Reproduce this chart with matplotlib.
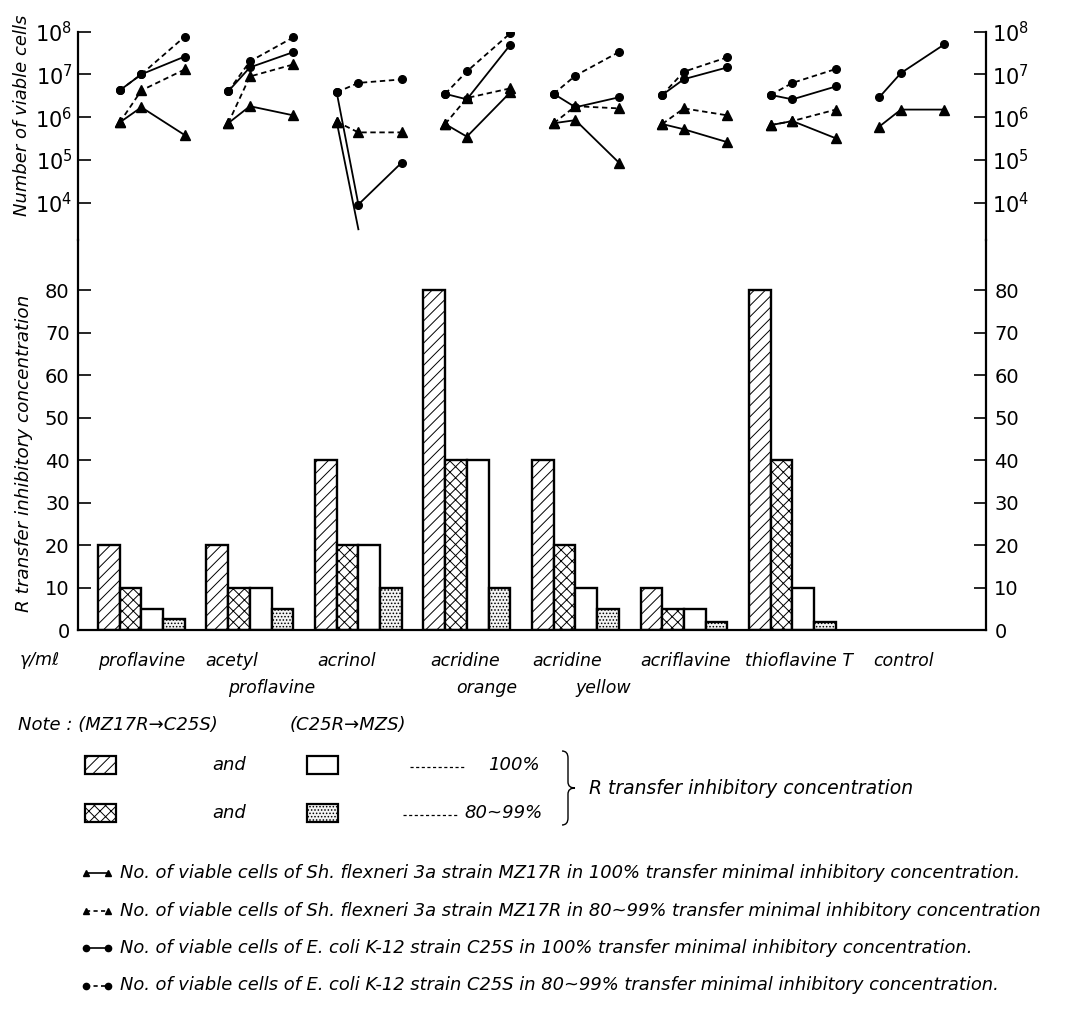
import numpy as np
import matplotlib
matplotlib.use("Agg")
import matplotlib.pyplot as plt
from matplotlib.patches import Rectangle, PathPatch
from matplotlib.path import Path
from matplotlib.lines import Line2D
from matplotlib.ticker import NullLocator, FixedLocator
import matplotlib.transforms as mtrans

# ---------------- data ----------------
categories = ['proflavine', 'acetyl\nproflavine', 'acrinol', 'acridine\norange',
              'acridine\nyellow', 'acriflavine', 'thioflavine T', 'control']
hours = [0, 1, 3]

# R transfer inhibitory concentration (gamma/ml)
mz_100 = [20, 20, 40, 80, 40, 10, 80, np.nan]    # MZ17R -> C25S, 100 %
mz_80 = [10, 10, 20, 40, 20, 5, 40, np.nan]      # MZ17R -> C25S, 80~99 %
c25_100 = [5, 10, 20, 40, 10, 5, 10, np.nan]     # C25R -> MZS, 100 %
c25_80 = [2.5, 5, 10, 10, 5, 2, 2, np.nan]       # C25R -> MZS, 80~99 %

# number of viable cells at 0, 1, 3 h
sh_100 = [[7.5e5, 1.7e6, 3.8e5], [7.2e5, 1.8e6, 1.1e6], [7.8e5, 2.4e3, np.nan],
          [6.9e5, 3.5e5, 3.8e6], [7.2e5, 8.5e5, 8.7e4], [6.9e5, 5.2e5, 2.6e5],
          [6.5e5, 8.1e5, 3.2e5], [6.0e5, 1.5e6, 1.5e6]]
sh_80 = [[7.5e5, 4.2e6, 1.3e7], [7.2e5, 8.9e6, 1.7e7], [7.8e5, 4.4e5, 4.4e5],
         [6.9e5, 2.8e6, 4.7e6], [7.2e5, 1.8e6, 1.6e6], [6.9e5, 1.6e6, 1.1e6],
         [6.5e5, 8.1e5, 1.5e6], [np.nan, np.nan, np.nan]]
ec_100 = [[4.2e6, 1.0e7, 2.6e7], [4.0e6, 1.45e7, 3.3e7], [3.8e6, 9.1e3, 8.7e4],
          [3.5e6, 2.6e6, 4.9e7], [3.5e6, 1.7e6, 2.9e6], [3.3e6, 7.7e6, 1.45e7],
          [3.3e6, 2.6e6, 5.2e6], [2.9e6, 1.07e7, 5.0e7]]
ec_80 = [[4.2e6, 1.0e7, 7.6e7], [4.0e6, 2.0e7, 7.3e7], [3.8e6, 6.3e6, 7.6e6],
         [3.5e6, 1.17e7, 9.1e7], [3.5e6, 9.3e6, 3.3e7], [3.3e6, 1.15e7, 2.5e7],
         [3.3e6, 6.3e6, 1.33e7], [np.nan, np.nan, np.nan]]
detect_limit = 5e3   # no marker drawn below this (line only)

# ---------------- layout ----------------
W, H = 1071, 1015
fig = plt.figure(figsize=(W / 100, H / 100), dpi=100)
plt.rcParams['hatch.linewidth'] = 0.7


def fx(px):
    return px / W


def fy(py):
    return 1 - py / H


L, R = 78, 986
ax_top = fig.add_axes([fx(L), fy(240), fx(R) - fx(L), fy(31.5) - fy(240)])
ax_bar = fig.add_axes([fx(L), fy(630), fx(R) - fx(L), fy(240) - fy(630)], sharex=ax_top)

GROUP = 5.0
xlim = (-0.92, 40.92)
TXT = 'black'

# ---------------- top panel ----------------
styles = [
    (sh_100, '^', '-', 6.5),
    (sh_80, '^', '--', 6.5),
    (ec_100, 'o', '-', 5.5),
    (ec_80, 'o', '--', 5.5),
]
for series, mk, ls, ms in styles:
    for i, vals in enumerate(series):
        v = np.array(vals, dtype=float)
        x = GROUP * i + 1 + np.array(hours, dtype=float)
        kw = dict(color='black', lw=1.3)
        if ls == '--':
            kw['dashes'] = (3, 2)
        ax_top.plot(x, v, **kw)
        vis = v >= detect_limit
        ax_top.plot(x[vis], v[vis], ls='none', marker=mk, ms=ms, color='black')

ax_top.set_yscale('log')
ax_top.set_ylim(10 ** 3.13, 1e8)
ax_top.set_xlim(*xlim)
ax_top.yaxis.set_major_locator(FixedLocator([1e4, 1e5, 1e6, 1e7, 1e8]))
ax_top.yaxis.set_minor_locator(NullLocator())
ax_top.set_yticklabels(['$10^{4}$', '$10^{5}$', '$10^{6}$', '$10^{7}$', '$10^{8}$'])
ax_top.tick_params(axis='y', which='both', direction='in', length=9, width=1.2,
                   left=True, right=True, labelleft=True, labelright=True,
                   labelsize=15, pad=4, colors='black')
ax_top.tick_params(axis='x', bottom=False, labelbottom=False)
for s in ['top', 'bottom']:
    ax_top.spines[s].set_visible(False)
for s in ['left', 'right']:
    ax_top.spines[s].set_linewidth(1.6)
ax_top.patch.set_alpha(0)

# ---------------- bar panel ----------------
bar_series = [(mz_100, '///', 'white'), (mz_80, 'xxx', 'white'),
              (c25_100, '', 'white'), (c25_80, '.....', '#f4f4f4')]
for k, (vals, hatch, fc) in enumerate(bar_series):
    xs = GROUP * np.arange(len(categories)) + 0.5 + k
    ax_bar.bar(xs, vals, width=1.0, facecolor=fc, edgecolor='black',
               hatch=hatch, linewidth=1.7)

ax_bar.set_ylim(0, 91.8)
ax_bar.set_xlim(*xlim)
ax_bar.set_yticks(np.arange(0, 81, 10))
ax_bar.set_yticklabels([str(t) for t in range(0, 81, 10)])
ax_bar.tick_params(axis='y', direction='in', length=9, width=1.2,
                   left=True, right=True, labelleft=True, labelright=True,
                   labelsize=14, pad=6, colors='black')
ax_bar.tick_params(axis='x', bottom=False, labelbottom=False)
ax_bar.spines['top'].set_visible(False)
for s in ['left', 'right', 'bottom']:
    ax_bar.spines[s].set_linewidth(1.6)
ax_bar.patch.set_alpha(0)

# category labels
trans = mtrans.blended_transform_factory(ax_bar.transData, fig.transFigure)
label_offsets = [(0.0, 0.0), (-0.05, 1.0), (0.1, 0.0), (0.3, 1.5),
                 (0.0, 2.0), (0.0, 0.0), (-0.2, 0.0), (0.7, 0.0)]
for i, (cat, (o1, o2)) in enumerate(zip(categories, label_offsets)):
    parts = cat.split('\n')
    ax_bar.text(GROUP * i + o1, fy(661), parts[0], transform=trans, ha='left',
                va='center', fontsize=12.5, style='italic', color=TXT)
    if len(parts) > 1:
        ax_bar.text(GROUP * i + o2, fy(688), parts[1], transform=trans, ha='left',
                    va='center', fontsize=12.5, style='italic', color=TXT)

fig.text(fx(20), fy(660), 'γ/mℓ', ha='left', va='center', fontsize=12.5,
         style='italic', color=TXT)

# axis titles
fig.text(fx(22), fy(115), 'Number of viable cells', rotation=90, ha='center',
         va='center', fontsize=13, style='italic', color=TXT)
fig.text(fx(24), fy(453), 'R transfer inhibitory concentration', rotation=90,
         ha='center', va='center', fontsize=13.2, style='italic', color=TXT)

# ---------------- legend ----------------
fs = 13
fig.text(fx(18), fy(725), 'Note : (MZ17R→C25S)', ha='left', va='center',
         fontsize=fs, style='italic', color=TXT)
fig.text(fx(290), fy(725), '(C25R→MZS)', ha='left', va='center',
         fontsize=fs, style='italic', color=TXT)

rows = [(765, '///', 'white', '', 'white', '100%', 410, 465, 488),
        (813, 'xxx', 'white', '.....', '#f4f4f4', '80~99%', 403, 459, 464)]
for y, h1, fc1, h2, fc2, lab, d0, d1, tx in rows:
    fig.add_artist(Rectangle((fx(85), fy(y + 9)), fx(31), 18 / H,
                             transform=fig.transFigure, facecolor=fc1,
                             edgecolor='black', hatch=h1, lw=1.6))
    fig.add_artist(Rectangle((fx(307), fy(y + 9)), fx(31), 18 / H,
                             transform=fig.transFigure, facecolor=fc2,
                             edgecolor='black', hatch=h2, lw=1.6))
    fig.text(fx(212), fy(y), 'and', ha='left', va='center', fontsize=fs,
             style='italic', color=TXT)
    fig.add_artist(Line2D([fx(d0), fx(d1)], [fy(y + 2), fy(y + 2)],
                          transform=fig.transFigure, color='black', lw=0.9,
                          dashes=(2.5, 2.0)))
    fig.text(fx(tx), fy(y), lab, ha='left', va='center', fontsize=fs,
             style='italic', color=TXT)

# brace
bx = 562
verts = [(bx, 751), (bx + 6, 751), (bx + 6, 758), (bx + 6, 782), (bx + 6, 788),
         (bx + 13, 788), (bx + 6, 788), (bx + 6, 794), (bx + 6, 818),
         (bx + 6, 825), (bx, 825)]
codes = [Path.MOVETO, Path.CURVE3, Path.CURVE3, Path.LINETO, Path.CURVE3,
         Path.CURVE3, Path.CURVE3, Path.CURVE3, Path.LINETO, Path.CURVE3,
         Path.CURVE3]
verts_f = [(fx(a), fy(b)) for a, b in verts]
fig.add_artist(PathPatch(Path(verts_f, codes), transform=fig.transFigure,
                         fill=False, lw=1.0, edgecolor='black'))
fig.text(fx(589), fy(788), 'R transfer inhibitory concentration', ha='left',
         va='center', fontsize=13.5, style='italic', color=TXT)

line_legend = [
    ('^', '-', 'No. of viable cells of Sh. flexneri 3a strain MZ17R in 100% transfer minimal inhibitory concentration.'),
    ('^', '--', 'No. of viable cells of Sh. flexneri 3a strain MZ17R in 80~99% transfer minimal inhibitory concentration'),
    ('o', '-', 'No. of viable cells of E. coli K-12 strain C25S in 100% transfer minimal inhibitory concentration.'),
    ('o', '--', 'No. of viable cells of E. coli K-12 strain C25S in 80~99% transfer minimal inhibitory concentration.'),
]
for j, (mk, ls, txt) in enumerate(line_legend):
    y = 873 + j * 37.5
    kw = dict(color='black', lw=1.2, marker=mk, ms=4.5 if mk == 'o' else 5)
    if ls == '--':
        kw['dashes'] = (2.5, 2)
    fig.add_artist(Line2D([fx(86), fx(108)], [fy(y), fy(y)],
                          transform=fig.transFigure, **kw))
    fig.text(fx(120), fy(y), txt, ha='left', va='center', fontsize=12.9,
             style='italic', color=TXT)

fig.savefig('out.png', dpi=100, facecolor='white')
